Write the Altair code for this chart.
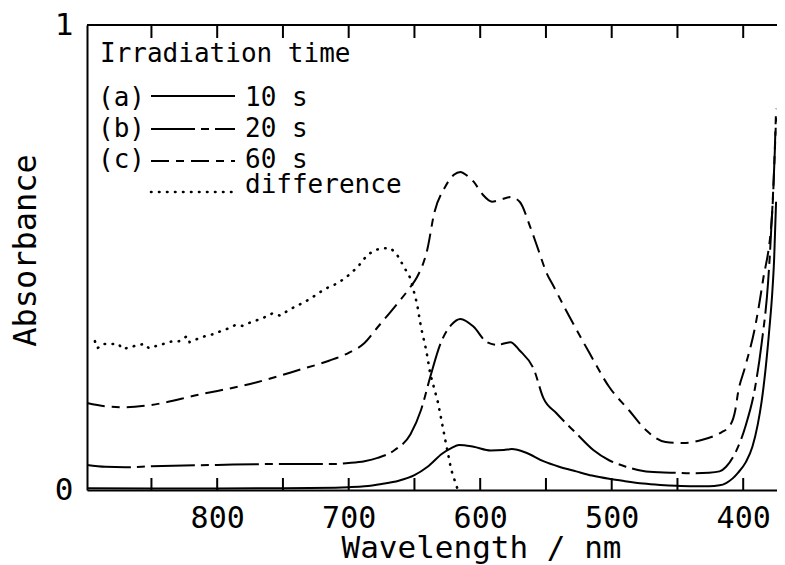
import altair as alt
import pandas as pd

FONT = "DejaVu Sans Mono"

# ---- data ----
wl_a = [899, 850, 800, 750, 710, 700, 688, 675, 662, 650, 640, 629, 622, 616, 605, 592, 582, 576, 565,
        552, 540, 527, 515, 502, 490, 476, 463, 451, 438, 426, 418, 413, 408, 404, 398, 393, 389, 386,
        383, 380, 378, 376.5, 375]
abs_a = [0.004, 0.003, 0.003, 0.004, 0.005, 0.006, 0.008, 0.013, 0.02, 0.032, 0.05, 0.078, 0.09, 0.097,
         0.093, 0.085, 0.086, 0.088, 0.08, 0.062, 0.05, 0.04, 0.031, 0.024, 0.019, 0.014, 0.011, 0.009,
         0.008, 0.008, 0.010, 0.015, 0.025, 0.037, 0.06, 0.093, 0.14, 0.19, 0.26, 0.35, 0.42, 0.495,
         0.62]

wl_b = [899, 885, 870, 850, 800, 750, 710, 700, 688, 678, 665, 653, 645, 638, 630, 622, 615, 605, 595,
        587, 577, 570, 559, 552, 542, 527, 514, 502, 489, 476, 464, 451, 438, 426, 418, 413, 406, 398.5,
        391, 386, 381, 376.5, 375]
abs_b = [0.054, 0.05, 0.049, 0.051, 0.054, 0.056, 0.056, 0.058, 0.062, 0.069, 0.086, 0.12, 0.172, 0.243,
         0.316, 0.355, 0.368, 0.351, 0.318, 0.312, 0.318, 0.30, 0.258, 0.198, 0.165, 0.122, 0.086, 0.064,
         0.05, 0.041, 0.038, 0.037, 0.036, 0.037, 0.04, 0.05, 0.08, 0.135, 0.22, 0.315, 0.45, 0.69, 0.8]

wl_c = [899, 885, 870, 850, 814, 775, 738, 715, 700, 688, 678, 665, 653, 648, 640, 635, 627, 620, 615,
        610, 605, 598, 591, 584, 577, 570, 562, 555, 550, 544, 532, 517, 502, 487, 474, 459, 446, 431,
        416, 411, 406, 404, 398.5, 391, 385, 378, 375]
abs_c = [0.187, 0.18, 0.178, 0.183, 0.205, 0.228, 0.258, 0.278, 0.295, 0.316, 0.35, 0.394, 0.437, 0.458,
         0.52, 0.595, 0.65, 0.678, 0.684, 0.676, 0.663, 0.635, 0.62, 0.625, 0.63, 0.62, 0.566, 0.51,
         0.47, 0.437, 0.372, 0.295, 0.222, 0.172, 0.129, 0.103, 0.101, 0.108, 0.125, 0.135, 0.172, 0.208,
         0.265, 0.35, 0.45, 0.595, 0.82]

wl_d = [893, 891, 887, 882, 875, 872, 866, 860, 855, 852, 846, 841, 834, 829, 823, 821, 815, 809, 803,
        797, 791, 786, 781, 778, 770, 765, 758, 752, 745, 738, 730, 722, 716, 708, 700, 693, 686, 680,
        674, 668, 663, 658, 653, 648, 645, 641, 638, 632, 627, 622, 617]
abs_d = [0.32, 0.305, 0.314, 0.314, 0.314, 0.303, 0.307, 0.312, 0.314, 0.305, 0.31, 0.314, 0.32, 0.32,
         0.331, 0.318, 0.325, 0.331, 0.335, 0.342, 0.348, 0.355, 0.353, 0.357, 0.365, 0.37, 0.38, 0.375,
         0.388, 0.398, 0.41, 0.425, 0.435, 0.445, 0.462, 0.48, 0.505, 0.516, 0.52, 0.52, 0.505, 0.48,
         0.455, 0.40, 0.35, 0.30, 0.25, 0.187, 0.114, 0.043, 0.0]

tick_wl = [850, 800, 750, 700, 650, 600, 550, 500, 450, 400]
label_wl = [800, 700, 600, 500, 400]

legend_prefix = ["(a)", "(b)", "(c)", ""]
legend_label = ["10 s", "20 s", "60 s", "difference"]
legend_title = "Irradiation time"

W, H = 690, 465
xscale = alt.Scale(domain=[374.3, 899], reverse=True, nice=False, zero=False)
yscale = alt.Scale(domain=[0, 1], nice=False, zero=False)

xenc = alt.X("wl:Q", scale=xscale,
             axis=alt.Axis(values=label_wl, ticks=False, grid=False, domainWidth=2, domainColor="black",
                           labelFontSize=30, labelPadding=13, labelColor="black", labelFont=FONT,
                           title="Wavelength / nm", titleFontSize=31, titleFont=FONT,
                           titleFontWeight="normal", titleX=394, titleY=67, titleBaseline="alphabetic",
                           titleColor="black"))
yenc = alt.Y("a:Q", scale=yscale,
             axis=alt.Axis(values=[0, 1], format="d", ticks=False, grid=False, domainWidth=2,
                           domainColor="black", labelFontSize=31, labelPadding=14, labelColor="black",
                           labelFont=FONT, title="Absorbance", titleFontSize=32, titleFont=FONT,
                           titleFontWeight="normal", titleX=-52, titleY=225, titleBaseline="alphabetic",
                           titleColor="black"))


def series(wl, ab):
    return pd.DataFrame({"wl": wl, "a": ab})


line_a = alt.Chart(series(wl_a, abs_a)).mark_line(
    color="black", strokeWidth=2, interpolate="monotone").encode(x=xenc, y=yenc)
line_b = alt.Chart(series(wl_b, abs_b)).mark_line(
    color="black", strokeWidth=2, interpolate="monotone",
    strokeDash=[44, 6, 8, 6]).encode(x="wl:Q", y="a:Q")
line_c = alt.Chart(series(wl_c, abs_c)).mark_line(
    color="black", strokeWidth=2, interpolate="monotone",
    strokeDash=[18, 7, 8, 7]).encode(x="wl:Q", y="a:Q")
line_d = alt.Chart(series(wl_d, abs_d)).mark_line(
    color="black", strokeWidth=2.6, strokeCap="round",
    strokeDash=[0.5, 7.5]).encode(x="wl:Q", y="a:Q")

ticks_df = pd.DataFrame({"wl": tick_wl})
bottom_ticks = alt.Chart(ticks_df).mark_rule(color="black", strokeWidth=2).encode(
    x="wl:Q", y=alt.value(H), y2=alt.value(H - 12))
top_ticks = alt.Chart(ticks_df).mark_rule(color="black", strokeWidth=2).encode(
    x="wl:Q", y=alt.value(0), y2=alt.value(13))
top_border = alt.Chart(pd.DataFrame({"a": [1]})).mark_rule(color="black", strokeWidth=2).encode(y="a:Q")

# ---- legend drawn in the plot's upper-left corner ----
layers = [line_a, line_b, line_c, line_d, bottom_ticks, top_ticks, top_border]
text_style = dict(font=FONT, fontSize=26, color="black", align="left", baseline="alphabetic")
layers.append(alt.Chart(pd.DataFrame({"t": [legend_title]})).mark_text(**text_style).encode(
    text="t:N", x=alt.value(13), y=alt.value(37)))
row_line_y = [71, 104, 136, 167]
row_text_y = [81, 112, 143, 168]
dashes = [None, [44, 6, 8, 6], [18, 7, 8, 7], [0.5, 7.5]]
for i in range(4):
    if legend_prefix[i]:
        layers.append(alt.Chart(pd.DataFrame({"t": [legend_prefix[i]]})).mark_text(**text_style).encode(
            text="t:N", x=alt.value(11), y=alt.value(row_text_y[i])))
    layers.append(alt.Chart(pd.DataFrame({"t": [legend_label[i]]})).mark_text(**text_style).encode(
        text="t:N", x=alt.value(158), y=alt.value(row_text_y[i])))
    kw = dict(color="black", strokeWidth=2)
    if dashes[i] is not None:
        kw["strokeDash"] = dashes[i]
    if i == 3:
        kw["strokeWidth"] = 2.6
        kw["strokeCap"] = "round"
    layers.append(alt.Chart(pd.DataFrame({"t": [legend_label[i]]})).mark_rule(**kw).encode(
        x=alt.value(64), x2=alt.value(148), y=alt.value(row_line_y[i])))

chart = alt.layer(*layers).properties(
    width=W, height=H,
    autosize=alt.AutoSizeParams(type="none"),
    padding={"left": 79, "top": 17, "right": 0, "bottom": 74},
).configure_view(stroke=None).configure(background="white")

chart.save("out.html", embed_options={"renderer": "svg", "actions": False})
